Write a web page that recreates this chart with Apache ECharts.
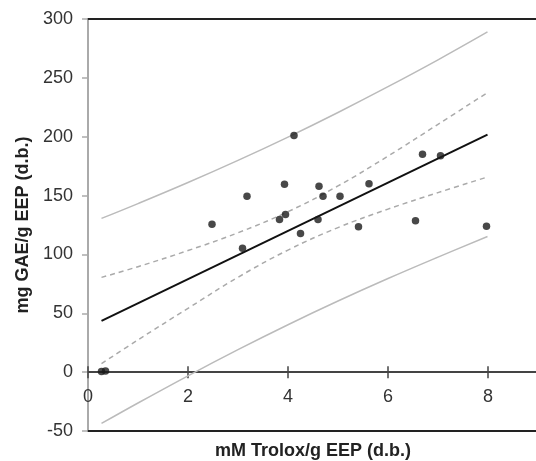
<!DOCTYPE html>
<html>
<head>
<meta charset="utf-8">
<script src="https://cdn.jsdelivr.net/npm/echarts@6/dist/echarts.min.js"></script>
<style>html,body{margin:0;padding:0;background:#fff}#c{width:536px;height:461px}</style>
</head>
<body>
<div id="c"></div>
<script>
// Observed points: Trolox (x) vs GAE (y)
const pointsX = [0.27, 0.35, 2.48, 3.09, 3.18, 3.83, 3.93, 3.95, 4.12, 4.25, 4.60, 4.62, 4.70, 5.04, 5.41, 5.62, 6.55, 6.69, 7.05, 7.97];
const pointsY = [0.5, 1.0, 125.7, 105.3, 149.5, 129.7, 159.7, 134.0, 201.0, 117.8, 129.7, 158.0, 149.5, 149.5, 123.5, 160.0, 128.6, 185.2, 183.8, 124.0];

// Regression line ends
const regX = [0.27, 7.99];
const regY = [43.5, 201.8];

// Band curves read at these x values
const bandX = [0.27, 1, 2, 3, 4, 5, 6, 7, 7.99];
const confUpper = [80.5, 89.6, 103.3, 118.4, 136.3, 158.2, 183.5, 210.5, 237.5];
const confLower = [7.2, 27.4, 54.2, 80.6, 103.7, 122.8, 138.5, 152.5, 165.8];
const predUpper = [130.6, 143.2, 161.1, 179.9, 199.7, 220.6, 242.5, 265.3, 289.0];
const predLower = [-43.6, -26.2, -3.1, 19.1, 40.3, 60.4, 79.5, 97.7, 115.2];

const xTicks = [0, 2, 4, 6, 8];
const yTicks = [-50, 0, 50, 100, 150, 200, 250, 300];

const zip = (xs, ys) => xs.map((x, i) => [x, ys[i]]);
const FONT = "'Liberation Sans', Arial, sans-serif";

const GRID_TOP = 19, GRID_BOTTOM = 30, H = 461;
const Y_MIN = -50, Y_MAX = 300;
// distance (px) from the grid bottom to the y = 0 line
const zeroOffset = (H - GRID_TOP - GRID_BOTTOM) * (0 - Y_MIN) / (Y_MAX - Y_MIN);

const chart = echarts.init(document.getElementById('c'), null, {renderer: 'canvas'});
const xBase = {type: 'value', min: 0, max: 9, interval: 2, splitLine: {show: false}};
const yBase = {type: 'value', min: Y_MIN, max: Y_MAX, interval: 50, splitLine: {show: false}};
chart.setOption({
  animation: false,
  grid: {left: 88, right: -2, top: GRID_TOP, bottom: GRID_BOTTOM, containLabel: false, outerBoundsMode: 'none'},
  xAxis: [
    Object.assign({}, xBase, {
      position: 'bottom',
      offset: -zeroOffset,
      axisLine: {onZero: false, lineStyle: {color: '#444', width: 2}},
      axisTick: {show: true, length: 6, lineStyle: {color: '#444', width: 1.5}},
      axisLabel: {show: true, margin: 16, fontSize: 18, color: '#333', fontFamily: FONT, showMaxLabel: false,
        formatter: v => xTicks.indexOf(v) >= 0 ? String(v) : ''}
    }),
    Object.assign({}, xBase, {
      position: 'bottom',
      offset: -zeroOffset,
      axisLine: {onZero: false, lineStyle: {color: '#444', width: 2}},
      axisTick: {show: true, inside: true, length: 6, lineStyle: {color: '#444', width: 1.5}},
      axisLabel: {show: false}
    }),
    Object.assign({}, xBase, {
      position: 'top',
      axisLine: {onZero: false, lineStyle: {color: '#222', width: 2}},
      axisTick: {show: false},
      axisLabel: {show: false}
    }),
    Object.assign({}, xBase, {
      position: 'bottom',
      axisLine: {onZero: false, lineStyle: {color: '#222', width: 2}},
      axisTick: {show: false},
      axisLabel: {show: false},
      name: 'mM Trolox/g EEP (d.b.)',
      nameLocation: 'middle',
      nameGap: 11,
      nameTextStyle: {fontSize: 18, fontWeight: 'bold', color: '#222', fontFamily: FONT, verticalAlign: 'top'}
    })
  ],
  yAxis: [
    Object.assign({}, yBase, {
      position: 'left',
      axisLine: {show: true, onZero: false, lineStyle: {color: '#aaa', width: 2}},
      axisTick: {show: true, length: 6, lineStyle: {color: '#aaa', width: 1.5}},
      axisLabel: {margin: 15, fontSize: 18, color: '#333', fontFamily: FONT,
        formatter: v => yTicks.indexOf(v) >= 0 ? String(v) : ''},
      name: 'mg GAE/g EEP (d.b.)',
      nameLocation: 'middle',
      nameGap: 53,
      nameTextStyle: {fontSize: 18, fontWeight: 'bold', color: '#222', fontFamily: FONT}
    })
  ],
  series: [
    {type: 'line', data: zip(bandX, predUpper), smooth: 0.4, showSymbol: false, symbol: 'none',
      lineStyle: {color: '#bbb', width: 1.5}, z: 2},
    {type: 'line', data: zip(bandX, predLower), smooth: 0.4, showSymbol: false, symbol: 'none',
      lineStyle: {color: '#bbb', width: 1.5}, z: 2},
    {type: 'line', data: zip(bandX, confUpper), smooth: 0.4, showSymbol: false, symbol: 'none',
      lineStyle: {color: '#aaa', width: 1.5, type: [5, 4]}, z: 2},
    {type: 'line', data: zip(bandX, confLower), smooth: 0.4, showSymbol: false, symbol: 'none',
      lineStyle: {color: '#aaa', width: 1.5, type: [5, 4]}, z: 2},
    {type: 'line', data: zip(regX, regY), showSymbol: false, symbol: 'none',
      lineStyle: {color: '#111', width: 2}, z: 3},
    {type: 'scatter', data: zip(pointsX, pointsY), symbol: 'circle', symbolSize: 7.5,
      itemStyle: {color: '#1a1a1a'}, z: 4}
  ]
});
</script>
</body>
</html>
